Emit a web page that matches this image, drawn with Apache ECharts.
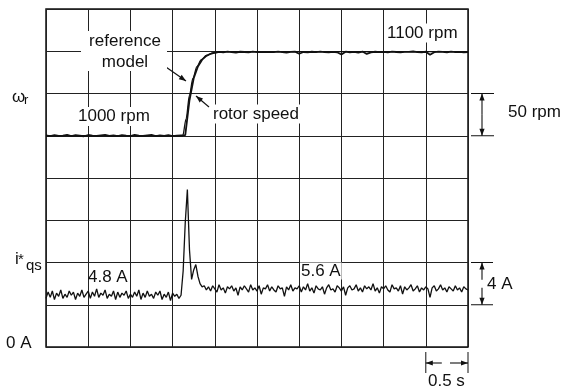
<!DOCTYPE html>
<html>
<head>
<meta charset="utf-8">
<title>rotor speed and torque current</title>
<script src="https://cdn.jsdelivr.net/npm/echarts@6/dist/echarts.min.js"></script>
<style>
    html, body { margin: 0; padding: 0; background: #fff; }
    #chart { width: 562px; height: 388px; }
</style>
</head>
<body>
<div id="chart"></div>
<script>
// time axis: 10 divisions of 0.5 s
var timeMin = 0;
var timeMax = 5;
var timeDiv = 0.5;

// speed axis: 50 rpm per division, 1000 rpm on the 5th line
var speedMin = 750;
var speedMax = 1150;
var speedDiv = 50;

// current axis: 4 A per division, 0 A on the bottom line
var currentMin = 0;
var currentMax = 32;
var currentDiv = 4;

// rotor speed, one sample every 0.05 s (rpm)
var speedStep = 0.05;
var rotorSpeed = [
    1000.4, 999.6, 1000.8, 999.8, 1000.2, 1001.0, 999.5, 1000.6, 1000.0, 999.4,
    1000.9, 1000.2, 999.7, 1000.5, 1001.1, 999.8, 1000.3, 999.5, 1000.7, 1000.1,
    999.6, 1000.9, 1000.0, 999.7, 1000.4, 1001.0, 999.6, 1000.3, 999.9, 1000.6,
    999.5, 1000.2, 1000.5,
    1000.8, 1042, 1068, 1082, 1090, 1094.5, 1097, 1098.5,
    1099.3, 1098.8, 1099.6, 1099.0, 1098.5, 1099.4, 1099.1, 1098.7, 1099.5, 1098.9,
    1099.2, 1099.0, 1099.3, 1098.9, 1099.6, 1099.0, 1098.4, 1099.2, 1099.5, 1097.0,
    1099.1, 1098.6, 1099.4, 1098.9, 1099.6, 1099.0, 1098.6, 1099.3, 1098.8, 1096.2,
    1099.5, 1098.8, 1099.2, 1098.5, 1099.6, 1096.8, 1098.7, 1099.4, 1098.9, 1099.3,
    1098.6, 1099.5, 1099.1, 1098.8, 1099.3, 1099.2, 1099.7, 1099.0, 1098.6, 1099.4,
    1095.8, 1098.9, 1099.6, 1099.2, 1098.8, 1099.5, 1099.0, 1099.3, 1098.7, 1099.1
];

// reference model speed (s, rpm)
var refTimes = [0, 1.62, 1.66, 1.70, 1.74, 1.79, 1.84, 1.90, 1.98, 2.10, 5];
var refSpeed = [1000, 1000, 1020, 1048, 1068, 1082, 1090, 1095, 1098, 1099.5, 1099.5];

// torque current command i*qs, one sample every 0.025 s (A)
var currentStep = 0.025;
var currentCmd = [
    4.6, 5.2, 4.7, 5.3, 4.5, 5.1, 4.8, 5.4, 4.6, 5.0, 4.7, 5.3, 4.9, 5.2, 4.5, 5.1,
    4.8, 5.4, 4.7, 5.0, 5.3, 4.6, 5.2, 4.8, 5.5, 4.7, 5.1, 4.9, 5.4, 4.6, 5.0, 4.8,
    5.3, 4.5, 5.2, 4.7, 5.1, 4.9, 5.3, 4.6, 5.0, 4.7, 5.2, 4.8, 5.4, 4.5, 5.1, 4.7,
    5.3, 4.8, 5.0, 4.6, 5.2, 4.9, 5.3, 4.5, 5.0, 4.7, 5.2, 4.4, 5.1, 4.8, 5.0, 4.6,
    4.9, 7.2, 11.8, 14.9, 9.2, 6.4, 7.3, 7.8, 6.7, 6.0, 5.7, 5.8,
    5.4, 5.7, 5.3, 5.8, 5.5, 5.2, 5.9, 5.4, 5.6, 5.1, 5.7, 5.5, 5.8, 5.3, 5.6, 4.9, 5.7, 5.4, 5.8, 5.5,
    5.2, 5.9, 5.4, 5.6, 5.3, 5.8, 5.0, 5.6, 5.5, 5.9, 5.3, 5.7, 5.4, 5.2, 5.8, 5.5, 5.6, 4.8, 5.7, 5.4,
    5.9, 5.3, 5.6, 5.5, 5.8, 5.2, 5.7, 5.4, 6.0, 5.3, 5.6, 5.1, 5.8, 5.5, 5.4, 5.7, 5.0, 5.6, 5.9, 5.4,
    5.5, 5.2, 5.8, 5.6, 5.3, 5.7, 4.9, 5.6, 5.8, 5.4, 5.5, 5.9, 5.3, 5.6, 5.2, 5.8, 5.5, 5.7, 5.4, 6.0,
    5.3, 5.6, 5.1, 5.7, 5.5, 5.8, 5.4, 5.2, 5.9, 5.5, 5.6, 5.3, 5.8, 5.0, 5.7, 5.4, 5.6, 5.9, 5.3, 5.5,
    5.8, 5.2, 5.6, 5.4, 5.7, 5.5, 4.7, 5.6, 5.8, 5.3, 5.5, 5.9, 5.4, 5.6, 5.2, 5.7, 5.5, 5.3, 5.8, 5.4,
    5.6, 5.2, 5.7, 5.5, 5.4
];

var FONT = '"Liberation Sans", Arial, Helvetica, sans-serif';
var INK = '#111';

function sampled(values, step) {
    var out = [];
    for (var i = 0; i < values.length; i++) {
        out.push([+(i * step).toFixed(3), values[i]]);
    }
    return out;
}

function paired(xs, ys) {
    var out = [];
    for (var i = 0; i < xs.length; i++) {
        out.push([xs[i], ys[i]]);
    }
    return out;
}

var hidden = {
    axisLine: {show: false},
    axisTick: {show: false},
    axisLabel: {show: false}
};

var gridLine = {show: true, lineStyle: {color: '#222', width: 1}};

var chart = echarts.init(document.getElementById('chart'));

chart.setOption({
    animation: false,
    backgroundColor: '#fff',
    grid: {
        left: 46, top: 9, width: 422, height: 338,
        show: true, borderColor: INK, borderWidth: 1.5
    },
    xAxis: echarts.util.extend({
        type: 'value', min: timeMin, max: timeMax, interval: timeDiv,
        splitLine: gridLine
    }, hidden),
    yAxis: [
        echarts.util.extend({
            type: 'value', min: speedMin, max: speedMax, interval: speedDiv,
            splitLine: gridLine
        }, hidden),
        echarts.util.extend({
            type: 'value', min: currentMin, max: currentMax, interval: currentDiv,
            splitLine: {show: false}
        }, hidden)
    ],
    series: [
        {
            name: 'reference model',
            type: 'line',
            yAxisIndex: 0,
            data: paired(refTimes, refSpeed),
            symbol: 'none',
            smooth: 0.3,
            smoothMonotone: 'x',
            lineStyle: {color: INK, width: 1.3}
        },
        {
            name: 'rotor speed',
            type: 'line',
            yAxisIndex: 0,
            data: sampled(rotorSpeed, speedStep),
            symbol: 'none',
            lineStyle: {color: INK, width: 1.8}
        },
        {
            name: 'i*qs',
            type: 'line',
            yAxisIndex: 1,
            data: sampled(currentCmd, currentStep),
            symbol: 'none',
            lineStyle: {color: INK, width: 1.3}
        }
    ]
});

// annotation helpers
function px(t, v, axis) {
    return chart.convertToPixel({xAxisIndex: 0, yAxisIndex: axis}, [t, v]);
}

function seg(x1, y1, x2, y2, w) {
    return {
        type: 'line', silent: true, z: 20,
        shape: {x1: x1, y1: y1, x2: x2, y2: y2},
        style: {stroke: INK, lineWidth: w || 1}
    };
}

function head(x1, y1, x2, y2) {
    var dx = x2 - x1;
    var dy = y2 - y1;
    var len = Math.sqrt(dx * dx + dy * dy);
    var ux = dx / len;
    var uy = dy / len;
    var h = 7;
    var w = 2.6;
    var bx = x2 - ux * h;
    var by = y2 - uy * h;
    return {
        type: 'polygon', silent: true, z: 21,
        shape: {points: [[x2, y2], [bx - uy * w, by + ux * w], [bx + uy * w, by - ux * w]]},
        style: {fill: INK}
    };
}

function arrow(x1, y1, x2, y2) {
    return [seg(x1, y1, x2, y2, 1.1), head(x1, y1, x2, y2)];
}

function label(text, x, y, size, align, bg) {
    var el = {
        type: 'text', silent: true, z: 30,
        style: {
            text: text, x: x, y: y,
            font: size + 'px ' + FONT,
            fill: INK,
            align: align || 'left',
            verticalAlign: 'middle'
        }
    };
    if (bg) {
        el.style.backgroundColor = '#fff';
        el.style.padding = bg;
    }
    return el;
}

var els = [];

// side labels
els.push(label('\u03c9', 12, 97, 17));
els.push(label('r', 24, 100, 13));
els.push(label('i', 15, 259, 17));
els.push(label('*', 18, 260, 15));
els.push(label('qs', 26, 266, 15));
els.push(label('0 A', 6, 343, 17));

// text inside the plot
els.push({
    type: 'rect', silent: true, z: 25,
    shape: {x: 81, y: 31, width: 86, height: 40},
    style: {fill: '#fff'}
});
els.push(label('reference', 125, 41.5, 17, 'center'));
els.push(label('model', 125, 62.5, 17, 'center'));
els = els.concat(arrow(163, 65, 186, 81));
els.push(label('rotor speed', 256, 114, 17, 'center', [1, 3]));
els = els.concat(arrow(209, 107, 196, 96));
els.push(label('1000 rpm', 76, 116.5, 17, 'left', [1, 2]));
els.push(label('1100 rpm', 385, 33, 17, 'left', [1, 2]));
els.push(label('4.8 A', 88, 277.5, 17, 'left'));
els.push(label('5.6 A', 300, 271, 17, 'left', [0, 1]));

// 50 rpm scale bar
var s1 = px(timeMax, 1050, 0);
var s0 = px(timeMax, 1000, 0);
var bx = s1[0] + 14;
els.push(seg(s1[0] + 3, s1[1], s1[0] + 26, s1[1]));
els.push(seg(s0[0] + 3, s0[1], s0[0] + 26, s0[1]));
els = els.concat(arrow(bx, (s1[1] + s0[1]) / 2, bx, s1[1]));
els = els.concat(arrow(bx, (s1[1] + s0[1]) / 2, bx, s0[1]));
els.push(label('50 rpm', 508, 112.5, 17));

// 4 A scale bar
var c1 = px(timeMax, 8, 1);
var c0 = px(timeMax, 4, 1);
els.push(seg(c1[0] + 3, c1[1], c1[0] + 25, c1[1]));
els.push(seg(c0[0] + 3, c0[1], c0[0] + 25, c0[1]));
els = els.concat(arrow(bx, (c1[1] + c0[1]) / 2 - 4, bx, c1[1]));
els = els.concat(arrow(bx, (c1[1] + c0[1]) / 2 + 4, bx, c0[1]));
els.push(label('4 A', 487, 284, 17));

// 0.5 s scale bar
var t0 = px(timeMax - timeDiv, currentMin, 1);
var t1 = px(timeMax, currentMin, 1);
var ty = t0[1] + 16;
els.push(seg(t0[0], t0[1] + 5, t0[0], t0[1] + 26));
els.push(seg(t1[0], t1[1] + 5, t1[0], t1[1] + 26));
els = els.concat(arrow(t0[0] + 16, ty, t0[0], ty));
els = els.concat(arrow(t1[0] - 18, ty, t1[0], ty));
els.push(label('0.5 s', 428, 381.5, 17));

chart.setOption({graphic: {elements: els}});
</script>
</body>
</html>
